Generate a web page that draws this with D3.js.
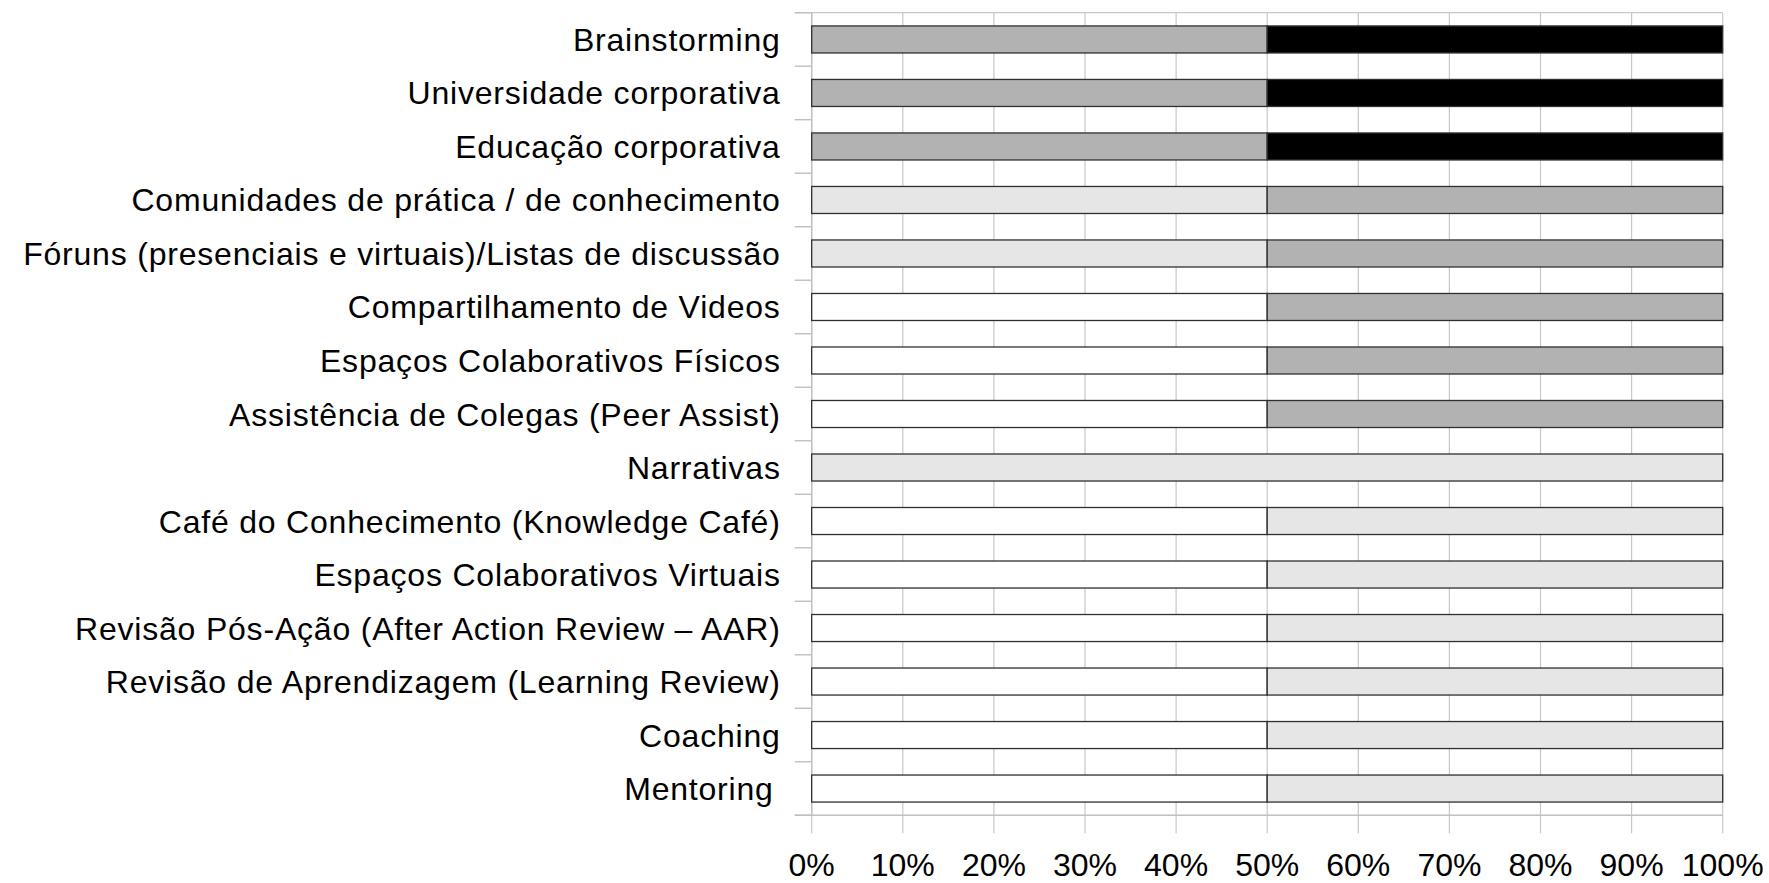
<!DOCTYPE html>
<html>
<head>
<meta charset="utf-8">
<script src="https://cdn.jsdelivr.net/npm/d3@7"></script>
<style>
  html, body { margin: 0; padding: 0; background: #fff; }
  svg { display: block; }
  text { font-family: "Liberation Sans", Arial, sans-serif; fill: #000; }
</style>
</head>
<body>
<svg id="chart" width="1769" height="883"></svg>
<script>
// Practices, listed top to bottom
const categories = [
  "Brainstorming",
  "Universidade corporativa",
  "Educação corporativa",
  "Comunidades de prática / de conhecimento",
  "Fóruns (presenciais e virtuais)/Listas de discussão",
  "Compartilhamento de Videos",
  "Espaços Colaborativos Físicos",
  "Assistência de Colegas (Peer Assist)",
  "Narrativas",
  "Café do Conhecimento (Knowledge Café)",
  "Espaços Colaborativos Virtuais",
  "Revisão Pós-Ação (After Action Review – AAR)",
  "Revisão de Aprendizagem (Learning Review)",
  "Coaching",
  "Mentoring"
];

// Response counts per level (stacked left to right, normalised to 100%)
const level1 = [0, 0, 0, 0, 0, 1, 1, 1, 0, 1, 1, 1, 1, 1, 1];
const level2 = [0, 0, 0, 1, 1, 0, 0, 0, 1, 1, 1, 1, 1, 1, 1];
const level3 = [1, 1, 1, 1, 1, 1, 1, 1, 0, 0, 0, 0, 0, 0, 0];
const level4 = [1, 1, 1, 0, 0, 0, 0, 0, 0, 0, 0, 0, 0, 0, 0];

const seriesKeys = ["level1", "level2", "level3", "level4"];
const seriesColors = ["#ffffff", "#e6e6e6", "#b2b2b2", "#000000"];

const tickValues = [0, 0.1, 0.2, 0.3, 0.4, 0.5, 0.6, 0.7, 0.8, 0.9, 1];

const rows = categories.map((c, i) => ({
  category: c,
  level1: level1[i], level2: level2[i], level3: level3[i], level4: level4[i]
}));

const svg = d3.select("#chart");
const margin = { left: 811.7, right: 1769 - 1722.7, top: 12.7, bottom: 883 - 815.3 };
const x0 = margin.left, x1 = 1769 - margin.right;
const y0 = margin.top, y1 = 883 - margin.bottom;

const x = d3.scaleLinear().domain([0, 1]).range([x0, x1]);
const y = d3.scaleBand().domain(categories).range([y0, y1]).paddingInner(0.495).paddingOuter(0.2475);

const stacked = d3.stack().keys(seriesKeys).offset(d3.stackOffsetExpand)(rows);

// vertical gridlines, extended below the axis as tick marks
svg.append("g")
  .selectAll("line")
  .data(tickValues)
  .join("line")
  .attr("x1", d => x(d)).attr("x2", d => x(d))
  .attr("y1", y0).attr("y2", y1 + 18)
  .attr("stroke", "#c8c8c8").attr("stroke-width", 1.2);

// top border line
svg.append("line")
  .attr("x1", x0 - 17).attr("x2", x1)
  .attr("y1", y0).attr("y2", y0)
  .attr("stroke", "#c8c8c8").attr("stroke-width", 1.2);

// category axis: line and ticks at band boundaries
const step = y.step();
const boundaries = d3.range(categories.length + 1).map(i => y0 + i * step);
svg.append("g")
  .selectAll("line")
  .data(boundaries)
  .join("line")
  .attr("x1", x0 - 17).attr("x2", x0)
  .attr("y1", d => d).attr("y2", d => d)
  .attr("stroke", "#c0c0c0").attr("stroke-width", 1.4);
svg.append("line")
  .attr("x1", x0).attr("x2", x0)
  .attr("y1", y0).attr("y2", y1)
  .attr("stroke", "#c0c0c0").attr("stroke-width", 1.4);

// bottom value axis line
svg.append("line")
  .attr("x1", x0 - 17).attr("x2", x1)
  .attr("y1", y1).attr("y2", y1)
  .attr("stroke", "#c0c0c0").attr("stroke-width", 1.6);

// stacked bars
svg.append("g")
  .selectAll("g")
  .data(stacked)
  .join("g")
  .attr("fill", (d, i) => seriesColors[i])
  .selectAll("rect")
  .data(d => d.filter(s => s[1] - s[0] > 0))
  .join("rect")
  .attr("x", d => x(d[0]))
  .attr("width", d => x(d[1]) - x(d[0]))
  .attr("y", d => y(d.data.category))
  .attr("height", y.bandwidth())
  .attr("stroke", "#303030")
  .attr("stroke-width", 1.3);

// category labels
svg.append("g")
  .selectAll("text")
  .data(categories)
  .join("text")
  .attr("x", d => d === "Mentoring" ? x0 - 38 : x0 - 31)
  .attr("y", d => y(d) + y.bandwidth() / 2 + 11.5)
  .attr("text-anchor", "end")
  .attr("font-size", 32)
  .attr("letter-spacing", 0.8)
  .text(d => d);

// value axis labels
svg.append("g")
  .selectAll("text")
  .data(tickValues)
  .join("text")
  .attr("x", d => x(d))
  .attr("y", 876)
  .attr("text-anchor", "middle")
  .attr("font-size", 32)
  .text(d => d3.format(".0%")(d));
</script>
</body>
</html>
